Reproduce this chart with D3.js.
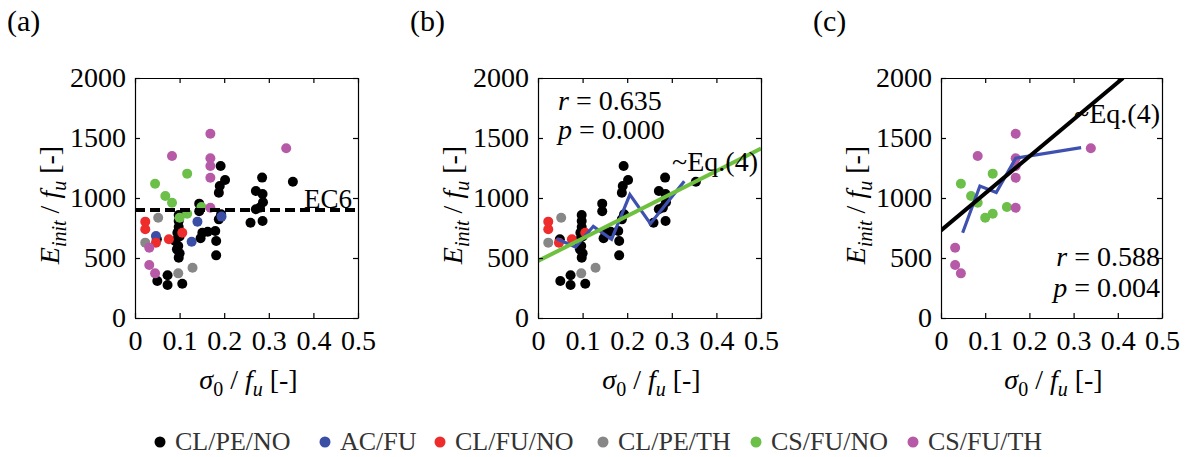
<!DOCTYPE html>
<html>
<head>
<meta charset="utf-8">
<script src="https://cdn.jsdelivr.net/npm/d3@7"></script>
<style>
  body { margin: 0; background: #fff; }
  text, tspan { font-family: "Liberation Serif", "Times New Roman", serif; }
</style>
</head>
<body>
<svg id="chart" width="1191" height="457"></svg>
<script>
// ---- axis ticks ----
const xTicks = [0, 0.1, 0.2, 0.3, 0.4, 0.5];
const xTickLabels = ["0", "0.1", "0.2", "0.3", "0.4", "0.5"];
const yTicks = [0, 500, 1000, 1500, 2000];
const yTickLabels = ["0", "500", "1000", "1500", "2000"];

// ---- groups ----
const groupNames = ["CL/PE/NO", "AC/FU", "CL/FU/NO", "CL/PE/TH", "CS/FU/NO", "CS/FU/TH"];
const groupColors = ["#000000", "#3a4ea6", "#ee2c2c", "#878787", "#6cc04a", "#b65aa8"];

// ---- specimens: [sigma0/fu, Einit/fu] ----
const clPeNo = [
  [0.050, 308], [0.073, 356], [0.073, 275], [0.106, 286],
  [0.098, 503], [0.100, 540], [0.094, 572], [0.097, 600], [0.090, 642], [0.100, 680],
  [0.095, 711], [0.098, 758], [0.098, 808], [0.098, 858], [0.049, 656],
  [0.144, 953], [0.144, 890], [0.147, 664], [0.151, 711], [0.163, 719],
  [0.180, 725], [0.182, 642], [0.182, 522],
  [0.192, 1267], [0.202, 1150], [0.190, 1100], [0.188, 1044], [0.193, 864], [0.188, 822],
  [0.285, 1170], [0.354, 1136], [0.271, 1058], [0.286, 1033], [0.287, 965],
  [0.280, 920], [0.271, 906], [0.259, 794], [0.286, 808]
];
const acFu = [[0.047, 683], [0.127, 636], [0.140, 803], [0.194, 845]];
const clFuNo = [[0.023, 803], [0.023, 739], [0.076, 656], [0.106, 711], [0.047, 628]];
const clPeTh = [[0.052, 836], [0.023, 628], [0.097, 372], [0.129, 419]];
const csFuNo = [[0.045, 1119], [0.117, 1203], [0.068, 1017], [0.083, 961], [0.100, 836], [0.117, 869], [0.149, 925]];
const csFuTh = [
  [0.169, 1536], [0.339, 1414], [0.083, 1350], [0.169, 1331], [0.169, 1267],
  [0.169, 1169], [0.169, 919], [0.032, 586], [0.032, 442], [0.045, 372]
];

// ---- reference lines ----
const ec6Line = [[0, 900], [0.5, 900]];
const eq4Clay = [[0, 475], [0.5, 1412]];
const trendClay = [[0.042, 661], [0.084, 592], [0.124, 764], [0.165, 656], [0.206, 1028], [0.252, 786], [0.328, 1140]];
const eq4Cs = [[0, 730], [0.412, 2000]];
const trendCs = [[0.049, 711], [0.088, 1100], [0.125, 1045], [0.169, 1331], [0.317, 1420]];

const allGroups = [clPeNo, acFu, clFuNo, clPeTh, csFuNo, csFuTh];

const svg = d3.select("#chart");
svg.append("rect").attr("width", 1191).attr("height", 457).attr("fill", "#fff");

const FS = 28;        // tick labels, annotations, titles
const FS_SUB = 20;    // subscripts
const FS_LEG = 26;    // legend
const SERIF = "Liberation Serif, Times New Roman, serif";
const plotTop = 78, plotBottom = 318;

const panels = [
  { tag: "(a)", tagX: 7, left: 135, right: 358, groups: [0, 1, 2, 3, 4, 5] },
  { tag: "(b)", tagX: 410, left: 538, right: 761, groups: [0, 2, 3] },
  { tag: "(c)", tagX: 813, left: 941, right: 1162, groups: [4, 5] }
];

function styleAxis(sel) {
  sel.attr("font-size", FS).attr("font-family", SERIF);
  sel.selectAll("text").attr("fill", "#000");
  sel.selectAll("line,path").attr("stroke", "#000").attr("stroke-width", 1.2);
}

function subscriptTitle(text, parts) {
  parts.forEach(([str, italic, sub]) => {
    const t = text.append("tspan").text(str);
    if (italic) t.attr("font-style", "italic");
    if (sub === 1) t.attr("font-size", FS_SUB).attr("dy", 7);
    if (sub === -1) t.attr("dy", -7);
  });
}

panels.forEach((p, pi) => {
  const x = d3.scaleLinear().domain([0, 0.5]).range([p.left, p.right]);
  const y = d3.scaleLinear().domain([0, 2000]).range([plotBottom, plotTop]);
  const g = svg.append("g").attr("font-family", SERIF);

  const clipId = "clip" + pi;
  svg.append("clipPath").attr("id", clipId)
    .append("rect").attr("x", p.left).attr("y", plotTop)
    .attr("width", p.right - p.left).attr("height", plotBottom - plotTop);

  // markers
  const pts = g.append("g");
  p.groups.forEach(gi => {
    pts.selectAll(null).data(allGroups[gi]).enter().append("circle")
      .attr("cx", d => x(d[0])).attr("cy", d => y(d[1]))
      .attr("r", 5).attr("fill", groupColors[gi]);
  });

  const line = d3.line().x(d => x(d[0])).y(d => y(d[1]));
  const lines = g.append("g").attr("clip-path", `url(#${clipId})`);

  if (pi === 0) {
    lines.append("path").attr("d", line(ec6Line)).attr("fill", "none")
      .attr("stroke", "#000").attr("stroke-width", 4).attr("stroke-dasharray", "10,5");
    g.append("text").attr("x", x(0.5) - 6).attr("y", y(900) - 2)
      .attr("text-anchor", "end").attr("font-size", 27).text("EC6");
  }
  if (pi === 1) {
    lines.append("path").attr("d", line(trendClay)).attr("fill", "none")
      .attr("stroke", "#3f51b0").attr("stroke-width", 3.2).attr("stroke-linejoin", "miter");
    lines.append("path").attr("d", line(eq4Clay)).attr("fill", "none")
      .attr("stroke", "#70c040").attr("stroke-width", 4);
    const t1 = g.append("text").attr("x", p.left + 20).attr("y", 110).attr("font-size", FS);
    t1.append("tspan").attr("font-style", "italic").text("r");
    t1.append("tspan").text(" = 0.635");
    const t2 = g.append("text").attr("x", p.left + 20).attr("y", 139).attr("font-size", FS);
    t2.append("tspan").attr("font-style", "italic").text("p");
    t2.append("tspan").text(" = 0.000");
    g.append("text").attr("x", p.right - 3).attr("y", 171).attr("text-anchor", "end")
      .attr("font-size", FS).text("~Eq.(4)");
  }
  if (pi === 2) {
    lines.append("path").attr("d", line(trendCs)).attr("fill", "none")
      .attr("stroke", "#3f51b0").attr("stroke-width", 3.2);
    lines.append("path").attr("d", line(eq4Cs)).attr("fill", "none")
      .attr("stroke", "#000").attr("stroke-width", 4);
    g.append("text").attr("x", p.right - 2).attr("y", 123).attr("text-anchor", "end")
      .attr("font-size", FS).text("~Eq.(4)");
    const t1 = g.append("text").attr("x", p.right - 2).attr("y", 266).attr("text-anchor", "end").attr("font-size", FS);
    t1.append("tspan").attr("font-style", "italic").text("r");
    t1.append("tspan").text(" = 0.588");
    const t2 = g.append("text").attr("x", p.right - 2).attr("y", 297).attr("text-anchor", "end").attr("font-size", FS);
    t2.append("tspan").attr("font-style", "italic").text("p");
    t2.append("tspan").text(" = 0.004");
  }

  // axes with inward ticks on all four sides
  g.append("g").attr("transform", `translate(0,${plotBottom})`)
    .call(d3.axisBottom(x).tickValues(xTicks).tickFormat((d, i) => xTickLabels[i])
      .tickSizeInner(-5).tickSizeOuter(0).tickPadding(12))
    .call(styleAxis);
  g.append("g").attr("transform", `translate(0,${plotTop})`)
    .call(d3.axisTop(x).tickValues(xTicks).tickFormat("").tickSizeInner(-5).tickSizeOuter(0))
    .call(styleAxis);
  g.append("g").attr("transform", `translate(${p.left},0)`)
    .call(d3.axisLeft(y).tickValues(yTicks).tickFormat((d, i) => yTickLabels[i])
      .tickSizeInner(-5).tickSizeOuter(0).tickPadding(9))
    .call(styleAxis);
  g.append("g").attr("transform", `translate(${p.right},0)`)
    .call(d3.axisRight(y).tickValues(yTicks).tickFormat("").tickSizeInner(-5).tickSizeOuter(0))
    .call(styleAxis);

  // panel tag
  g.append("text").attr("x", p.tagX).attr("y", 31).attr("font-size", 30).text(p.tag);

  // y title
  const yt = g.append("text").attr("font-size", FS).attr("text-anchor", "middle")
    .attr("transform", `translate(${p.left - 76},${(plotTop + plotBottom) / 2 + 7}) rotate(-90)`);
  subscriptTitle(yt, [["E", true, 0], ["init", true, 1], [" / ", false, -1], ["f", true, 0], ["u", true, 1], [" [-]", false, -1]]);

  // x title
  const xt = g.append("text").attr("font-size", FS).attr("text-anchor", "middle")
    .attr("x", (p.left + p.right) / 2 + 2).attr("y", 389);
  subscriptTitle(xt, [["σ", true, 0], ["0", false, 1], [" / ", false, -1], ["f", true, 0], ["u", true, 1], [" [-]", false, -1]]);
});

// legend
const legendTextX = [175, 340, 455, 618, 771, 928];
const leg = svg.append("g").attr("font-family", SERIF);
groupNames.forEach((name, i) => {
  leg.append("circle").attr("cx", legendTextX[i] - 15).attr("cy", 442).attr("r", 5.5).attr("fill", groupColors[i]);
  leg.append("text").attr("x", legendTextX[i]).attr("y", 450).attr("font-size", FS_LEG)
    .attr("fill", "#333").text(name);
});
</script>
</body>
</html>
